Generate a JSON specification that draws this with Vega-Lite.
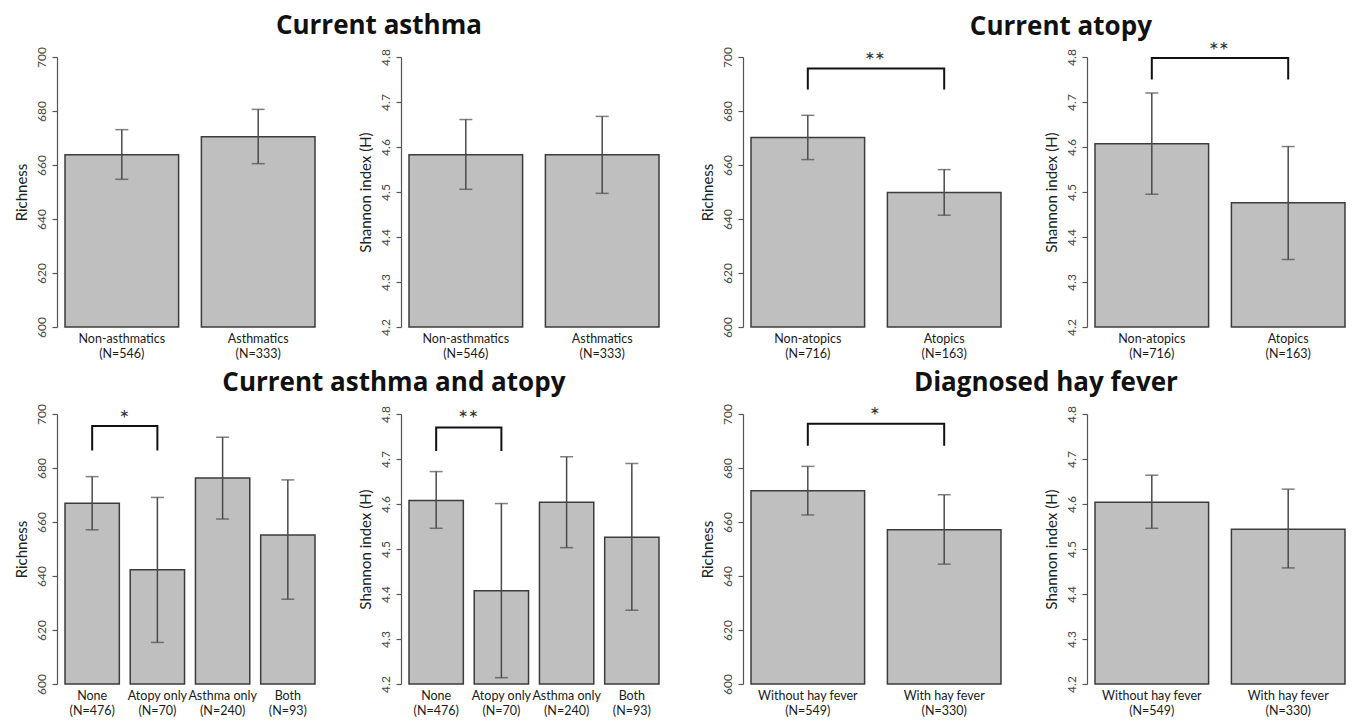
{
  "$schema": "https://vega.github.io/schema/vega-lite/v6.json",
  "padding": {"left": 14, "top": 12, "right": 2, "bottom": 2},
  "background": "white",
  "datasets": {
    "bars": [
      {"panel": "asthma_r", "cat": "Non-asthmatics|(N=546)", "mean": 663.8, "lo": 654.7, "hi": 673.1},
      {"panel": "asthma_r", "cat": "Asthmatics|(N=333)", "mean": 670.5, "lo": 660.5, "hi": 680.6},
      {"panel": "asthma_s", "cat": "Non-asthmatics|(N=546)", "mean": 4.583, "lo": 4.506, "hi": 4.661},
      {"panel": "asthma_s", "cat": "Asthmatics|(N=333)", "mean": 4.583, "lo": 4.497, "hi": 4.668},
      {"panel": "atopy_r", "cat": "Non-atopics|(N=716)", "mean": 670.2, "lo": 662.0, "hi": 678.4},
      {"panel": "atopy_r", "cat": "Atopics|(N=163)", "mean": 649.8, "lo": 641.4, "hi": 658.3},
      {"panel": "atopy_s", "cat": "Non-atopics|(N=716)", "mean": 4.607, "lo": 4.495, "hi": 4.72},
      {"panel": "atopy_s", "cat": "Atopics|(N=163)", "mean": 4.476, "lo": 4.35, "hi": 4.601},
      {"panel": "both_r", "cat": "None|(N=476)", "mean": 666.9, "lo": 657.1, "hi": 676.8},
      {"panel": "both_r", "cat": "Atopy only|(N=70)", "mean": 642.3, "lo": 615.4, "hi": 669.1},
      {"panel": "both_r", "cat": "Asthma only|(N=240)", "mean": 676.3, "lo": 661.1, "hi": 691.4},
      {"panel": "both_r", "cat": "Both|(N=93)", "mean": 655.2, "lo": 631.4, "hi": 675.6},
      {"panel": "both_s", "cat": "None|(N=476)", "mean": 4.608, "lo": 4.546, "hi": 4.672},
      {"panel": "both_s", "cat": "Atopy only|(N=70)", "mean": 4.407, "lo": 4.214, "hi": 4.601},
      {"panel": "both_s", "cat": "Asthma only|(N=240)", "mean": 4.604, "lo": 4.503, "hi": 4.705},
      {"panel": "both_s", "cat": "Both|(N=93)", "mean": 4.526, "lo": 4.364, "hi": 4.69},
      {"panel": "hay_r", "cat": "Without hay fever|(N=549)", "mean": 671.6, "lo": 662.6, "hi": 680.6},
      {"panel": "hay_r", "cat": "With hay fever|(N=330)", "mean": 657.1, "lo": 644.4, "hi": 670.1},
      {"panel": "hay_s", "cat": "Without hay fever|(N=549)", "mean": 4.604, "lo": 4.546, "hi": 4.664},
      {"panel": "hay_s", "cat": "With hay fever|(N=330)", "mean": 4.544, "lo": 4.458, "hi": 4.633}
    ],
    "brackets": [
      {"panel": "atopy_r", "cat": "Non-atopics|(N=716)", "y": 688, "ord": 1},
      {"panel": "atopy_r", "cat": "Non-atopics|(N=716)", "y": 695.7, "ord": 2},
      {"panel": "atopy_r", "cat": "Atopics|(N=163)", "y": 695.7, "ord": 3},
      {"panel": "atopy_r", "cat": "Atopics|(N=163)", "y": 688, "ord": 4},
      {"panel": "atopy_s", "cat": "Non-atopics|(N=716)", "y": 4.75, "ord": 1},
      {"panel": "atopy_s", "cat": "Non-atopics|(N=716)", "y": 4.798, "ord": 2},
      {"panel": "atopy_s", "cat": "Atopics|(N=163)", "y": 4.798, "ord": 3},
      {"panel": "atopy_s", "cat": "Atopics|(N=163)", "y": 4.75, "ord": 4},
      {"panel": "both_r", "cat": "None|(N=476)", "y": 686.5, "ord": 1},
      {"panel": "both_r", "cat": "None|(N=476)", "y": 695.6, "ord": 2},
      {"panel": "both_r", "cat": "Atopy only|(N=70)", "y": 695.6, "ord": 3},
      {"panel": "both_r", "cat": "Atopy only|(N=70)", "y": 686.5, "ord": 4},
      {"panel": "both_s", "cat": "None|(N=476)", "y": 4.718, "ord": 1},
      {"panel": "both_s", "cat": "None|(N=476)", "y": 4.77, "ord": 2},
      {"panel": "both_s", "cat": "Atopy only|(N=70)", "y": 4.77, "ord": 3},
      {"panel": "both_s", "cat": "Atopy only|(N=70)", "y": 4.718, "ord": 4},
      {"panel": "hay_r", "cat": "Without hay fever|(N=549)", "y": 688.2, "ord": 1},
      {"panel": "hay_r", "cat": "Without hay fever|(N=549)", "y": 696.4, "ord": 2},
      {"panel": "hay_r", "cat": "With hay fever|(N=330)", "y": 696.4, "ord": 3},
      {"panel": "hay_r", "cat": "With hay fever|(N=330)", "y": 688.2, "ord": 4}
    ],
    "stars": [
      {"panel": "atopy_r", "cat": "Non-atopics|(N=716)", "y": 698, "text": "**"},
      {"panel": "atopy_s", "cat": "Non-atopics|(N=716)", "y": 4.812, "text": "**"},
      {"panel": "both_r", "cat": "None|(N=476)", "y": 697.6, "text": "*"},
      {"panel": "both_s", "cat": "None|(N=476)", "y": 4.787, "text": "**"},
      {"panel": "hay_r", "cat": "Without hay fever|(N=549)", "y": 698.8, "text": "*"}
    ]
  },
  "vconcat": [
    {
      "hconcat": [
        {
          "title": {"text": "Current asthma", "dx": 42},
          "spacing": 42,
          "hconcat": [
            {
              "width": 250, "height": 270,
              "layer": [
                {"data": {"name": "bars"}, "transform": [{"filter": "datum.panel==='asthma_r'"}],
                 "mark": {"type": "bar", "fill": "#bfbfbf", "stroke": "#3c3c3c", "strokeWidth": 1.5},
                 "encoding": {
                   "x": {"field": "cat", "type": "nominal", "sort": null, "scale": {"paddingInner": 0.167, "paddingOuter": 0}, "axis": {"title": null, "labelExpr": "split(datum.label,'|')"}},
                   "y": {"field": "mean", "type": "quantitative", "scale": {"domain": [600, 700], "nice": false, "zero": false}, "axis": {"title": "Richness", "values": [600, 620, 640, 660, 680, 700]}},
                   "y2": {"datum": 600}}},
                {"data": {"name": "bars"}, "transform": [{"filter": "datum.panel==='asthma_r'"}],
                 "mark": {"type": "rule", "color": "#4a4a4a", "strokeWidth": 1.5},
                 "encoding": {"x": {"field": "cat", "type": "nominal", "sort": null}, "y": {"field": "lo", "type": "quantitative"}, "y2": {"field": "hi"}}},
                {"data": {"name": "bars"}, "transform": [{"filter": "datum.panel==='asthma_r'"}],
                 "mark": {"type": "tick", "size": 13, "thickness": 1.5, "color": "#4a4a4a"},
                 "encoding": {"x": {"field": "cat", "type": "nominal", "sort": null}, "y": {"field": "lo", "type": "quantitative"}}},
                {"data": {"name": "bars"}, "transform": [{"filter": "datum.panel==='asthma_r'"}],
                 "mark": {"type": "tick", "size": 13, "thickness": 1.5, "color": "#4a4a4a"},
                 "encoding": {"x": {"field": "cat", "type": "nominal", "sort": null}, "y": {"field": "hi", "type": "quantitative"}}}
              ]
            },
            {
              "width": 250, "height": 270,
              "layer": [
                {"data": {"name": "bars"}, "transform": [{"filter": "datum.panel==='asthma_s'"}],
                 "mark": {"type": "bar", "fill": "#bfbfbf", "stroke": "#3c3c3c", "strokeWidth": 1.5},
                 "encoding": {
                   "x": {"field": "cat", "type": "nominal", "sort": null, "scale": {"paddingInner": 0.167, "paddingOuter": 0}, "axis": {"title": null, "labelExpr": "split(datum.label,'|')"}},
                   "y": {"field": "mean", "type": "quantitative", "scale": {"domain": [4.2, 4.8], "nice": false, "zero": false}, "axis": {"title": "Shannon index (H)", "values": [4.2, 4.3, 4.4, 4.5, 4.6, 4.7, 4.8], "format": ".1f"}},
                   "y2": {"datum": 4.2}}},
                {"data": {"name": "bars"}, "transform": [{"filter": "datum.panel==='asthma_s'"}],
                 "mark": {"type": "rule", "color": "#4a4a4a", "strokeWidth": 1.5},
                 "encoding": {"x": {"field": "cat", "type": "nominal", "sort": null}, "y": {"field": "lo", "type": "quantitative"}, "y2": {"field": "hi"}}},
                {"data": {"name": "bars"}, "transform": [{"filter": "datum.panel==='asthma_s'"}],
                 "mark": {"type": "tick", "size": 13, "thickness": 1.5, "color": "#4a4a4a"},
                 "encoding": {"x": {"field": "cat", "type": "nominal", "sort": null}, "y": {"field": "lo", "type": "quantitative"}}},
                {"data": {"name": "bars"}, "transform": [{"filter": "datum.panel==='asthma_s'"}],
                 "mark": {"type": "tick", "size": 13, "thickness": 1.5, "color": "#4a4a4a"},
                 "encoding": {"x": {"field": "cat", "type": "nominal", "sort": null}, "y": {"field": "hi", "type": "quantitative"}}}
              ]
            }
          ]
        },
        {
          "title": {"text": "Current atopy", "dx": 38, "offset": 0},
          "spacing": 42,
          "hconcat": [
            {
              "width": 250, "height": 270,
              "layer": [
                {"data": {"name": "bars"}, "transform": [{"filter": "datum.panel==='atopy_r'"}],
                 "mark": {"type": "bar", "fill": "#bfbfbf", "stroke": "#3c3c3c", "strokeWidth": 1.5},
                 "encoding": {
                   "x": {"field": "cat", "type": "nominal", "sort": null, "scale": {"paddingInner": 0.167, "paddingOuter": 0}, "axis": {"title": null, "labelExpr": "split(datum.label,'|')"}},
                   "y": {"field": "mean", "type": "quantitative", "scale": {"domain": [600, 700], "nice": false, "zero": false}, "axis": {"title": "Richness", "values": [600, 620, 640, 660, 680, 700]}},
                   "y2": {"datum": 600}}},
                {"data": {"name": "bars"}, "transform": [{"filter": "datum.panel==='atopy_r'"}],
                 "mark": {"type": "rule", "color": "#4a4a4a", "strokeWidth": 1.5},
                 "encoding": {"x": {"field": "cat", "type": "nominal", "sort": null}, "y": {"field": "lo", "type": "quantitative"}, "y2": {"field": "hi"}}},
                {"data": {"name": "bars"}, "transform": [{"filter": "datum.panel==='atopy_r'"}],
                 "mark": {"type": "tick", "size": 13, "thickness": 1.5, "color": "#4a4a4a"},
                 "encoding": {"x": {"field": "cat", "type": "nominal", "sort": null}, "y": {"field": "lo", "type": "quantitative"}}},
                {"data": {"name": "bars"}, "transform": [{"filter": "datum.panel==='atopy_r'"}],
                 "mark": {"type": "tick", "size": 13, "thickness": 1.5, "color": "#4a4a4a"},
                 "encoding": {"x": {"field": "cat", "type": "nominal", "sort": null}, "y": {"field": "hi", "type": "quantitative"}}},
                {"data": {"name": "brackets"}, "transform": [{"filter": "datum.panel==='atopy_r'"}],
                 "mark": {"type": "line", "color": "#111111", "strokeWidth": 2},
                 "encoding": {"x": {"field": "cat", "type": "nominal", "sort": null}, "y": {"field": "y", "type": "quantitative"}, "order": {"field": "ord"}}},
                {"data": {"name": "stars"}, "transform": [{"filter": "datum.panel==='atopy_r'"}],
                 "mark": {"type": "text", "fontSize": 24, "color": "#333333", "baseline": "middle"},
                 "encoding": {"x": {"field": "cat", "type": "nominal", "sort": null, "bandPosition": 1.09}, "y": {"field": "y", "type": "quantitative"}, "text": {"field": "text"}}}
              ]
            },
            {
              "width": 250, "height": 270,
              "layer": [
                {"data": {"name": "bars"}, "transform": [{"filter": "datum.panel==='atopy_s'"}],
                 "mark": {"type": "bar", "fill": "#bfbfbf", "stroke": "#3c3c3c", "strokeWidth": 1.5},
                 "encoding": {
                   "x": {"field": "cat", "type": "nominal", "sort": null, "scale": {"paddingInner": 0.167, "paddingOuter": 0}, "axis": {"title": null, "labelExpr": "split(datum.label,'|')"}},
                   "y": {"field": "mean", "type": "quantitative", "scale": {"domain": [4.2, 4.8], "nice": false, "zero": false}, "axis": {"title": "Shannon index (H)", "values": [4.2, 4.3, 4.4, 4.5, 4.6, 4.7, 4.8], "format": ".1f"}},
                   "y2": {"datum": 4.2}}},
                {"data": {"name": "bars"}, "transform": [{"filter": "datum.panel==='atopy_s'"}],
                 "mark": {"type": "rule", "color": "#4a4a4a", "strokeWidth": 1.5},
                 "encoding": {"x": {"field": "cat", "type": "nominal", "sort": null}, "y": {"field": "lo", "type": "quantitative"}, "y2": {"field": "hi"}}},
                {"data": {"name": "bars"}, "transform": [{"filter": "datum.panel==='atopy_s'"}],
                 "mark": {"type": "tick", "size": 13, "thickness": 1.5, "color": "#4a4a4a"},
                 "encoding": {"x": {"field": "cat", "type": "nominal", "sort": null}, "y": {"field": "lo", "type": "quantitative"}}},
                {"data": {"name": "bars"}, "transform": [{"filter": "datum.panel==='atopy_s'"}],
                 "mark": {"type": "tick", "size": 13, "thickness": 1.5, "color": "#4a4a4a"},
                 "encoding": {"x": {"field": "cat", "type": "nominal", "sort": null}, "y": {"field": "hi", "type": "quantitative"}}},
                {"data": {"name": "brackets"}, "transform": [{"filter": "datum.panel==='atopy_s'"}],
                 "mark": {"type": "line", "color": "#111111", "strokeWidth": 2},
                 "encoding": {"x": {"field": "cat", "type": "nominal", "sort": null}, "y": {"field": "y", "type": "quantitative"}, "order": {"field": "ord"}}},
                {"data": {"name": "stars"}, "transform": [{"filter": "datum.panel==='atopy_s'"}],
                 "mark": {"type": "text", "fontSize": 24, "color": "#333333", "baseline": "middle"},
                 "encoding": {"x": {"field": "cat", "type": "nominal", "sort": null, "bandPosition": 1.09}, "y": {"field": "y", "type": "quantitative"}, "text": {"field": "text"}}}
              ]
            }
          ]
        }
      ],
      "spacing": 40
    },
    {
      "hconcat": [
        {
          "title": {"text": "Current asthma and atopy", "dx": 57},
          "spacing": 42,
          "hconcat": [
            {
              "width": 250, "height": 270,
              "layer": [
                {"data": {"name": "bars"}, "transform": [{"filter": "datum.panel==='both_r'"}],
                 "mark": {"type": "bar", "fill": "#bfbfbf", "stroke": "#3c3c3c", "strokeWidth": 1.5},
                 "encoding": {
                   "x": {"field": "cat", "type": "nominal", "sort": null, "scale": {"paddingInner": 0.167, "paddingOuter": 0}, "axis": {"title": null, "labelExpr": "split(datum.label,'|')"}},
                   "y": {"field": "mean", "type": "quantitative", "scale": {"domain": [600, 700], "nice": false, "zero": false}, "axis": {"title": "Richness", "values": [600, 620, 640, 660, 680, 700]}},
                   "y2": {"datum": 600}}},
                {"data": {"name": "bars"}, "transform": [{"filter": "datum.panel==='both_r'"}],
                 "mark": {"type": "rule", "color": "#4a4a4a", "strokeWidth": 1.5},
                 "encoding": {"x": {"field": "cat", "type": "nominal", "sort": null}, "y": {"field": "lo", "type": "quantitative"}, "y2": {"field": "hi"}}},
                {"data": {"name": "bars"}, "transform": [{"filter": "datum.panel==='both_r'"}],
                 "mark": {"type": "tick", "size": 13, "thickness": 1.5, "color": "#4a4a4a"},
                 "encoding": {"x": {"field": "cat", "type": "nominal", "sort": null}, "y": {"field": "lo", "type": "quantitative"}}},
                {"data": {"name": "bars"}, "transform": [{"filter": "datum.panel==='both_r'"}],
                 "mark": {"type": "tick", "size": 13, "thickness": 1.5, "color": "#4a4a4a"},
                 "encoding": {"x": {"field": "cat", "type": "nominal", "sort": null}, "y": {"field": "hi", "type": "quantitative"}}},
                {"data": {"name": "brackets"}, "transform": [{"filter": "datum.panel==='both_r'"}],
                 "mark": {"type": "line", "color": "#111111", "strokeWidth": 2},
                 "encoding": {"x": {"field": "cat", "type": "nominal", "sort": null}, "y": {"field": "y", "type": "quantitative"}, "order": {"field": "ord"}}},
                {"data": {"name": "stars"}, "transform": [{"filter": "datum.panel==='both_r'"}],
                 "mark": {"type": "text", "fontSize": 24, "color": "#333333", "baseline": "middle"},
                 "encoding": {"x": {"field": "cat", "type": "nominal", "sort": null, "bandPosition": 1.09}, "y": {"field": "y", "type": "quantitative"}, "text": {"field": "text"}}}
              ]
            },
            {
              "width": 250, "height": 270,
              "layer": [
                {"data": {"name": "bars"}, "transform": [{"filter": "datum.panel==='both_s'"}],
                 "mark": {"type": "bar", "fill": "#bfbfbf", "stroke": "#3c3c3c", "strokeWidth": 1.5},
                 "encoding": {
                   "x": {"field": "cat", "type": "nominal", "sort": null, "scale": {"paddingInner": 0.167, "paddingOuter": 0}, "axis": {"title": null, "labelExpr": "split(datum.label,'|')"}},
                   "y": {"field": "mean", "type": "quantitative", "scale": {"domain": [4.2, 4.8], "nice": false, "zero": false}, "axis": {"title": "Shannon index (H)", "values": [4.2, 4.3, 4.4, 4.5, 4.6, 4.7, 4.8], "format": ".1f"}},
                   "y2": {"datum": 4.2}}},
                {"data": {"name": "bars"}, "transform": [{"filter": "datum.panel==='both_s'"}],
                 "mark": {"type": "rule", "color": "#4a4a4a", "strokeWidth": 1.5},
                 "encoding": {"x": {"field": "cat", "type": "nominal", "sort": null}, "y": {"field": "lo", "type": "quantitative"}, "y2": {"field": "hi"}}},
                {"data": {"name": "bars"}, "transform": [{"filter": "datum.panel==='both_s'"}],
                 "mark": {"type": "tick", "size": 13, "thickness": 1.5, "color": "#4a4a4a"},
                 "encoding": {"x": {"field": "cat", "type": "nominal", "sort": null}, "y": {"field": "lo", "type": "quantitative"}}},
                {"data": {"name": "bars"}, "transform": [{"filter": "datum.panel==='both_s'"}],
                 "mark": {"type": "tick", "size": 13, "thickness": 1.5, "color": "#4a4a4a"},
                 "encoding": {"x": {"field": "cat", "type": "nominal", "sort": null}, "y": {"field": "hi", "type": "quantitative"}}},
                {"data": {"name": "brackets"}, "transform": [{"filter": "datum.panel==='both_s'"}],
                 "mark": {"type": "line", "color": "#111111", "strokeWidth": 2},
                 "encoding": {"x": {"field": "cat", "type": "nominal", "sort": null}, "y": {"field": "y", "type": "quantitative"}, "order": {"field": "ord"}}},
                {"data": {"name": "stars"}, "transform": [{"filter": "datum.panel==='both_s'"}],
                 "mark": {"type": "text", "fontSize": 24, "color": "#333333", "baseline": "middle"},
                 "encoding": {"x": {"field": "cat", "type": "nominal", "sort": null, "bandPosition": 1.09}, "y": {"field": "y", "type": "quantitative"}, "text": {"field": "text"}}}
              ]
            }
          ]
        },
        {
          "title": {"text": "Diagnosed hay fever", "dx": 23},
          "spacing": 42,
          "hconcat": [
            {
              "width": 250, "height": 270,
              "layer": [
                {"data": {"name": "bars"}, "transform": [{"filter": "datum.panel==='hay_r'"}],
                 "mark": {"type": "bar", "fill": "#bfbfbf", "stroke": "#3c3c3c", "strokeWidth": 1.5},
                 "encoding": {
                   "x": {"field": "cat", "type": "nominal", "sort": null, "scale": {"paddingInner": 0.167, "paddingOuter": 0}, "axis": {"title": null, "labelExpr": "split(datum.label,'|')"}},
                   "y": {"field": "mean", "type": "quantitative", "scale": {"domain": [600, 700], "nice": false, "zero": false}, "axis": {"title": "Richness", "values": [600, 620, 640, 660, 680, 700]}},
                   "y2": {"datum": 600}}},
                {"data": {"name": "bars"}, "transform": [{"filter": "datum.panel==='hay_r'"}],
                 "mark": {"type": "rule", "color": "#4a4a4a", "strokeWidth": 1.5},
                 "encoding": {"x": {"field": "cat", "type": "nominal", "sort": null}, "y": {"field": "lo", "type": "quantitative"}, "y2": {"field": "hi"}}},
                {"data": {"name": "bars"}, "transform": [{"filter": "datum.panel==='hay_r'"}],
                 "mark": {"type": "tick", "size": 13, "thickness": 1.5, "color": "#4a4a4a"},
                 "encoding": {"x": {"field": "cat", "type": "nominal", "sort": null}, "y": {"field": "lo", "type": "quantitative"}}},
                {"data": {"name": "bars"}, "transform": [{"filter": "datum.panel==='hay_r'"}],
                 "mark": {"type": "tick", "size": 13, "thickness": 1.5, "color": "#4a4a4a"},
                 "encoding": {"x": {"field": "cat", "type": "nominal", "sort": null}, "y": {"field": "hi", "type": "quantitative"}}},
                {"data": {"name": "brackets"}, "transform": [{"filter": "datum.panel==='hay_r'"}],
                 "mark": {"type": "line", "color": "#111111", "strokeWidth": 2},
                 "encoding": {"x": {"field": "cat", "type": "nominal", "sort": null}, "y": {"field": "y", "type": "quantitative"}, "order": {"field": "ord"}}},
                {"data": {"name": "stars"}, "transform": [{"filter": "datum.panel==='hay_r'"}],
                 "mark": {"type": "text", "fontSize": 24, "color": "#333333", "baseline": "middle"},
                 "encoding": {"x": {"field": "cat", "type": "nominal", "sort": null, "bandPosition": 1.09}, "y": {"field": "y", "type": "quantitative"}, "text": {"field": "text"}}}
              ]
            },
            {
              "width": 250, "height": 270,
              "layer": [
                {"data": {"name": "bars"}, "transform": [{"filter": "datum.panel==='hay_s'"}],
                 "mark": {"type": "bar", "fill": "#bfbfbf", "stroke": "#3c3c3c", "strokeWidth": 1.5},
                 "encoding": {
                   "x": {"field": "cat", "type": "nominal", "sort": null, "scale": {"paddingInner": 0.167, "paddingOuter": 0}, "axis": {"title": null, "labelExpr": "split(datum.label,'|')"}},
                   "y": {"field": "mean", "type": "quantitative", "scale": {"domain": [4.2, 4.8], "nice": false, "zero": false}, "axis": {"title": "Shannon index (H)", "values": [4.2, 4.3, 4.4, 4.5, 4.6, 4.7, 4.8], "format": ".1f"}},
                   "y2": {"datum": 4.2}}},
                {"data": {"name": "bars"}, "transform": [{"filter": "datum.panel==='hay_s'"}],
                 "mark": {"type": "rule", "color": "#4a4a4a", "strokeWidth": 1.5},
                 "encoding": {"x": {"field": "cat", "type": "nominal", "sort": null}, "y": {"field": "lo", "type": "quantitative"}, "y2": {"field": "hi"}}},
                {"data": {"name": "bars"}, "transform": [{"filter": "datum.panel==='hay_s'"}],
                 "mark": {"type": "tick", "size": 13, "thickness": 1.5, "color": "#4a4a4a"},
                 "encoding": {"x": {"field": "cat", "type": "nominal", "sort": null}, "y": {"field": "lo", "type": "quantitative"}}},
                {"data": {"name": "bars"}, "transform": [{"filter": "datum.panel==='hay_s'"}],
                 "mark": {"type": "tick", "size": 13, "thickness": 1.5, "color": "#4a4a4a"},
                 "encoding": {"x": {"field": "cat", "type": "nominal", "sort": null}, "y": {"field": "hi", "type": "quantitative"}}}
              ]
            }
          ]
        }
      ],
      "spacing": 40
    }
  ],
  "spacing": 9,
  "config": {
    "font": "Lato",
    "view": {"stroke": null},
    "title": {"font": "Open Sans", "fontSize": 26, "fontWeight": "bold", "color": "#111111", "anchor": "middle", "offset": 8},
    "axisX": {"domain": false, "ticks": false, "labelFontSize": 12.5, "labelColor": "#1a1a1a", "labelLineHeight": 15, "labelPadding": 5, "labelAngle": 0, "labelFont": "Lato"},
    "axisY": {"grid": false, "offset": 8, "domainColor": "#555555", "domainWidth": 1.2, "tickColor": "#555555", "tickWidth": 1.2, "tickSize": 5, "labelAngle": -90, "labelAlign": "center", "labelBaseline": "bottom", "labelPadding": 4, "labelFontSize": 12, "labelColor": "#444444", "labelFont": "Lato", "titleFont": "Lato", "titleFontSize": 15, "titleFontWeight": "normal", "titleColor": "#222222", "titlePadding": 6}
  }
}
